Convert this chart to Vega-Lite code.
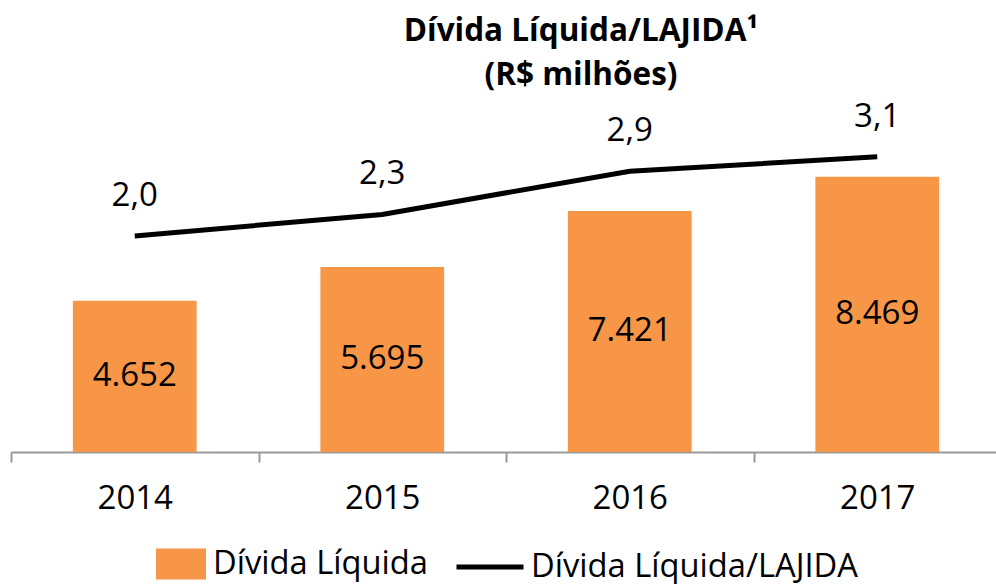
{
  "$schema": "https://vega.github.io/schema/vega-lite/v6.json",
  "width": 990,
  "height": 360,
  "autosize": "none",
  "padding": {"left": 11, "top": 92, "right": 0, "bottom": 132},
  "background": "white",
  "config": {
    "view": {"stroke": null},
    "font": "Open Sans",
    "locale": {"number": {"decimal": ",", "thousands": ".", "grouping": [3], "currency": ["R$", ""]}}
  },
  "title": {
    "text": ["Dívida Líquida/LAJIDA¹", "(R$ milhões)"],
    "fontSize": 31.5,
    "fontWeight": "bold",
    "color": "black",
    "anchor": "middle",
    "dx": 75,
    "lineHeight": 44,
    "offset": 1
  },
  "data": {
    "values": [
      {"ano": "2014", "divida": 4652, "ratio": 2.0},
      {"ano": "2015", "divida": 5695, "ratio": 2.3},
      {"ano": "2016", "divida": 7421, "ratio": 2.9},
      {"ano": "2017", "divida": 8469, "ratio": 3.1}
    ]
  },
  "encoding": {
    "x": {
      "field": "ano",
      "type": "ordinal",
      "scale": {"paddingInner": 0, "paddingOuter": 0},
      "axis": {
        "title": null,
        "labelAngle": 0,
        "labelFontSize": 33,
        "labelColor": "black",
        "labelPadding": 20,
        "domainColor": "#999999",
        "domainWidth": 2,
        "tickColor": "#999999",
        "tickWidth": 2,
        "tickSize": 10,
        "tickBand": "extent"
      }
    }
  },
  "layer": [
    {
      "mark": {"type": "bar", "width": {"band": 0.5}},
      "encoding": {
        "y": {"field": "divida", "type": "quantitative", "scale": {"domain": [0, 11080]}, "axis": null},
        "fill": {
          "datum": "Dívida Líquida",
          "scale": {"range": ["#F79646"]},
          "legend": {
            "orient": "none",
            "legendX": 145,
            "legendY": 447,
            "title": null,
            "padding": 0,
            "symbolType": "M-1,-0.62H1V0.62H-1Z",
            "symbolSize": 2500,
            "symbolStrokeWidth": 0,
            "labelFontSize": 32.7,
            "labelColor": "black",
            "labelOffset": 7,
            "labelLimit": 500
          }
        }
      }
    },
    {
      "mark": {"type": "text", "fontSize": 33, "baseline": "middle", "color": "black"},
      "encoding": {
        "y": {"field": "divida", "type": "quantitative", "scale": {"domain": [0, 22160]}, "axis": null},
        "text": {"field": "divida", "type": "quantitative", "format": ",d"}
      }
    },
    {
      "mark": {"type": "line", "strokeWidth": 5},
      "encoding": {
        "y": {"field": "ratio", "type": "quantitative", "scale": {"domain": [-1, 4], "zero": false}, "axis": null},
        "stroke": {
          "datum": "Dívida Líquida/LAJIDA",
          "scale": {"range": ["black"]},
          "legend": {
            "orient": "none",
            "legendX": 443,
            "legendY": 439,
            "title": null,
            "padding": 0,
            "symbolType": "stroke",
            "symbolSize": 4489,
            "symbolStrokeWidth": 5,
            "labelFontSize": 32.7,
            "labelColor": "black",
            "labelOffset": 5,
            "labelLimit": 500
          }
        }
      }
    },
    {
      "mark": {"type": "text", "fontSize": 33, "baseline": "middle", "color": "black", "dy": -40},
      "encoding": {
        "y": {"field": "ratio", "type": "quantitative", "scale": {"domain": [-1, 4], "zero": false}, "axis": null},
        "text": {"field": "ratio", "type": "quantitative", "format": ".1f"}
      }
    }
  ],
  "resolve": {"scale": {"y": "independent"}}
}
